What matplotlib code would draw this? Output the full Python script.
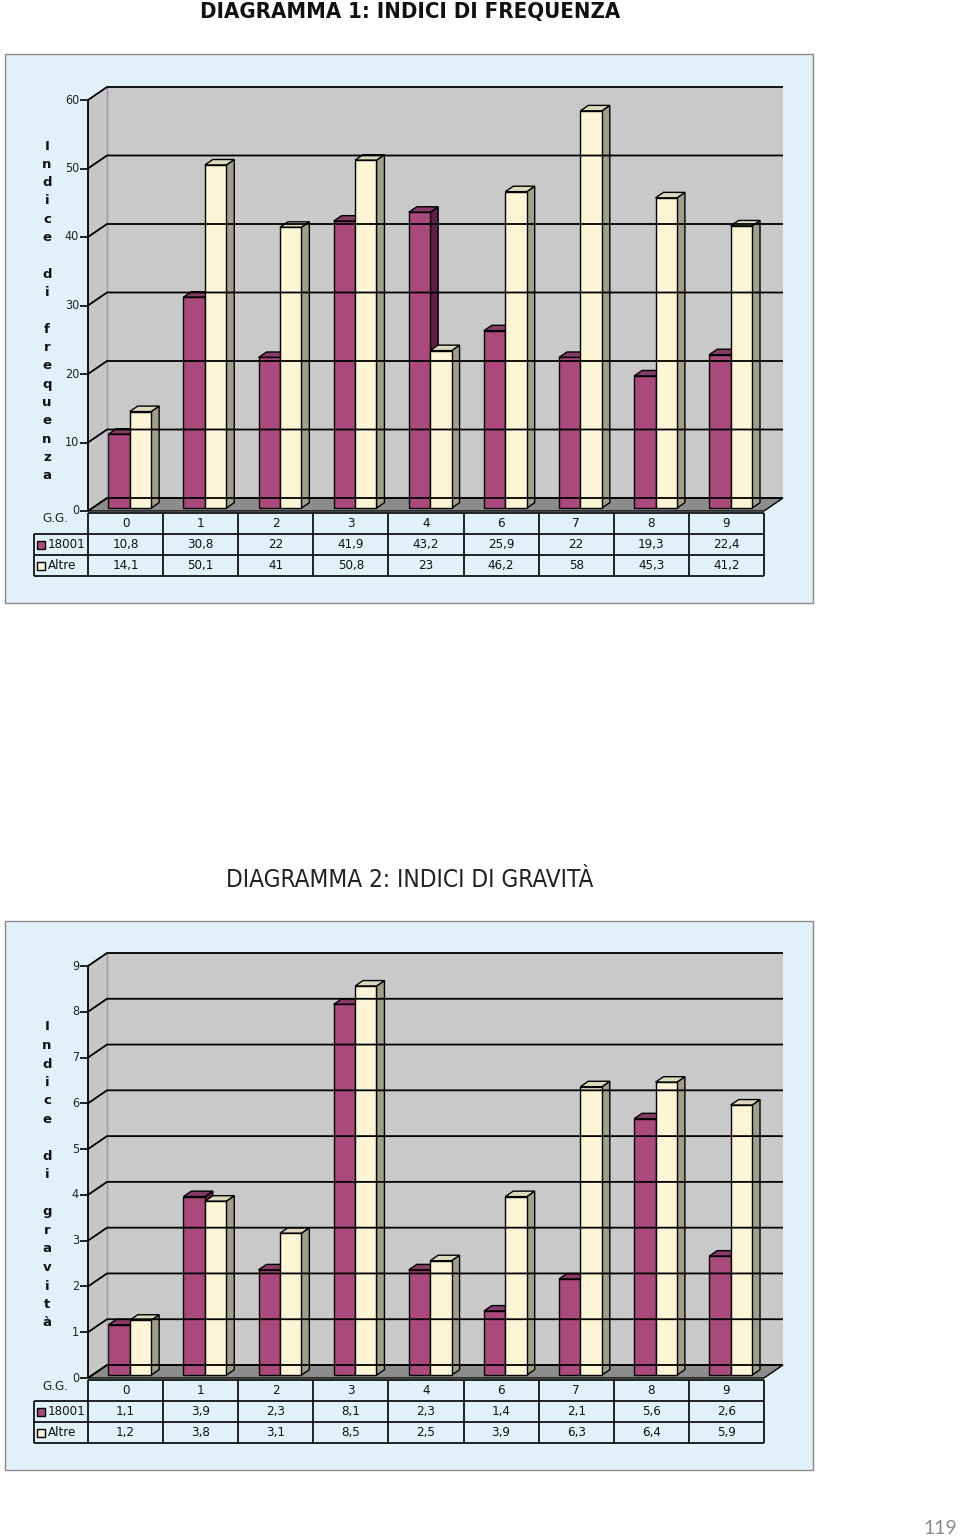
import numpy as np
import matplotlib
matplotlib.use("Agg")
import matplotlib.pyplot as plt
from matplotlib.patches import Polygon, Rectangle
from matplotlib.lines import Line2D
from matplotlib.transforms import IdentityTransform

categories = ["0", "1", "2", "3", "4", "6", "7", "8", "9"]
series_names = ["18001", "Altre"]
freq_18001 = [10.8, 30.8, 22, 41.9, 43.2, 25.9, 22, 19.3, 22.4]
freq_altre = [14.1, 50.1, 41, 50.8, 23, 46.2, 58, 45.3, 41.2]
grav_18001 = [1.1, 3.9, 2.3, 8.1, 2.3, 1.4, 2.1, 5.6, 2.6]
grav_altre = [1.2, 3.8, 3.1, 8.5, 2.5, 3.9, 6.3, 6.4, 5.9]
freq_ticks = [0, 10, 20, 30, 40, 50, 60]
grav_ticks = [0, 1, 2, 3, 4, 5, 6, 7, 8, 9]

W, H = 960, 1538
DX, DY = 19, 13          # depth offset of the 3d box, pixels
PANEL = "#e0f1fa"
MAG = ("#a9497c", "#863a66", "#5e1f40")      # front, top, side
CREAM = ("#fbf5d6", "#ddd9be", "#a09f88")
FONT = ["DejaVu Sans"]

fig = plt.figure(figsize=(W / 100, H / 100), dpi=100)
fig.patch.set_facecolor("white")


def fmt(v):
    return f"{v:g}".replace(".", ",")


def draw_chart(top_px, bottom_px, ymax, ticks, s1, s2, letters, let_y0, let_step):
    ax = fig.add_axes([88 / W, 1 - bottom_px / H, 676 / W, (bottom_px - top_px) / H])
    ax.set_xlim(-0.5, len(categories) - 0.5)
    ax.set_ylim(0, ymax)
    ax.axis("off")
    ax.patch.set_visible(False)
    idt = IdentityTransform()
    xr = len(categories) - 0.5

    def P(x, v, d=0.0):
        X, Y = ax.transData.transform((x, v))
        return (X + d * DX, Y + d * DY)

    def poly(pts, fc, ec="black", lw=1.0):
        ax.add_patch(Polygon(pts, closed=True, facecolor=fc, edgecolor=ec,
                             linewidth=lw, transform=idt, clip_on=False))

    def line(pts, color="black", lw=1.2):
        xs, ys = zip(*pts)
        ax.add_line(Line2D(xs, ys, color=color, linewidth=lw, transform=idt,
                           clip_on=False, solid_capstyle="butt"))

    def txt(x, y, s, ha="center", size=9.5, color="#111111"):
        ax.text(x, y, s, transform=idt, ha=ha, va="center", fontsize=size,
                family=FONT, fontstretch="condensed", color=color)

    # walls
    poly([P(-0.5, 0, 1), P(xr, 0, 1), P(xr, ymax, 1), P(-0.5, ymax, 1)], "#c9c9c9", ec="none")
    poly([P(-0.5, 0, 0), P(-0.5, 0, 1), P(-0.5, ymax, 1), P(-0.5, ymax, 0)], "#c6c6c6", ec="none")
    line([P(-0.5, 0, 1), P(-0.5, ymax, 1)], color="#9a9a9a", lw=1.0)
    for v in ticks:
        line([P(-0.5, v, 0), P(-0.5, v, 1), P(xr, v, 1)], lw=1.3)
    # floor
    poly([P(-0.5, 0, 0), P(xr, 0, 0), P(xr, 0, 1), P(-0.5, 0, 1)], "#8c8c8c", lw=1.0)
    # front axis with ticks
    line([P(-0.5, 0), P(-0.5, ymax)], lw=1.3)
    for v in ticks:
        X, Y = P(-0.5, v)
        line([(X - 8, Y), (X, Y)], lw=1.2)
        txt(X - 9, Y, str(v), ha="right", size=9, color="#222222")

    # bars
    w, f, b = 0.285, 0.22, 0.64
    for i in range(len(categories)):
        for (x0, x1, v, cols) in ((i - w, i, s1[i], MAG), (i, i + w, s2[i], CREAM)):
            poly([P(x1, 0, f), P(x1, 0, b), P(x1, v, b), P(x1, v, f)], cols[2])
            poly([P(x0, v, f), P(x1, v, f), P(x1, v, b), P(x0, v, b)], cols[1])
            poly([P(x0, 0, f), P(x1, 0, f), P(x1, v, f), P(x0, v, f)], cols[0])

    # data table
    X0, Y0 = P(-0.5, 0)
    XL = X0 - 54
    rh = 21
    top = Y0 - 2
    rows = [top - k * rh for k in range(4)]
    xs = [P(-0.5 + k, 0)[0] for k in range(len(categories) + 1)]
    line([(X0, rows[0]), (xs[-1], rows[0])])
    for r in rows[1:]:
        line([(XL, r), (xs[-1], r)])
    for xv in xs:
        line([(xv, rows[0]), (xv, rows[3])])
    line([(XL, rows[1]), (XL, rows[3])])
    for k, c in enumerate(categories):
        cx = (xs[k] + xs[k + 1]) / 2
        txt(cx, rows[0] - rh / 2, c)
        txt(cx, rows[1] - rh / 2, fmt(s1[k]))
        txt(cx, rows[2] - rh / 2, fmt(s2[k]))
    for r, name, col in ((rows[1], series_names[0], MAG[0]), (rows[2], series_names[1], CREAM[0])):
        cy = r - rh / 2
        ax.add_patch(Rectangle((XL + 3, cy - 4), 8, 8, facecolor=col, edgecolor="black",
                               linewidth=1.0, transform=idt, clip_on=False))
        txt(XL + 14, cy, name, ha="left")
    txt(X0 - 33, Y0 - 8, "G.G.", color="#222222")

    # stacked axis title
    for k, ch in enumerate(letters):
        if ch != " ":
            fig.text(47 / W, 1 - (let_y0 + k * let_step) / H, ch, ha="center", va="center",
                     fontsize=9.5, fontweight="bold", color="#111111")
    return ax


# panels
for (y0, y1) in ((54, 603), (921, 1470)):
    fig.add_artist(Rectangle((5 / W, 1 - y1 / H), 808 / W, (y1 - y0) / H,
                             transform=fig.transFigure, facecolor=PANEL,
                             edgecolor="#8a8a8a", linewidth=1.0, zorder=-1))

fig.text(410 / W, 1 - 12 / H, "DIAGRAMMA 1: INDICI DI FREQUENZA", ha="center", va="center",
         fontsize=15.8, fontweight="bold", family=FONT, fontstretch="condensed",
         color="#111111")
fig.text(410 / W, 1 - 880 / H, "DIAGRAMMA 2: INDICI DI GRAVITÀ", ha="center", va="center",
         fontsize=17.5, family=FONT, fontstretch="condensed", color="#222222")

draw_chart(100, 511, 60, freq_ticks, freq_18001, freq_altre,
           "Indice di frequenza", 146, 18.33)
draw_chart(966, 1378, 9, grav_ticks, grav_18001, grav_altre,
           "Indice di gravità", 1027, 18.5)

fig.text(957 / W, 1 - 1528 / H, "119", ha="right", va="center", fontsize=14,
         family=["Lato", "DejaVu Sans"], color="#8a8a8a")

fig.savefig("out.png", dpi=100, facecolor="white")
